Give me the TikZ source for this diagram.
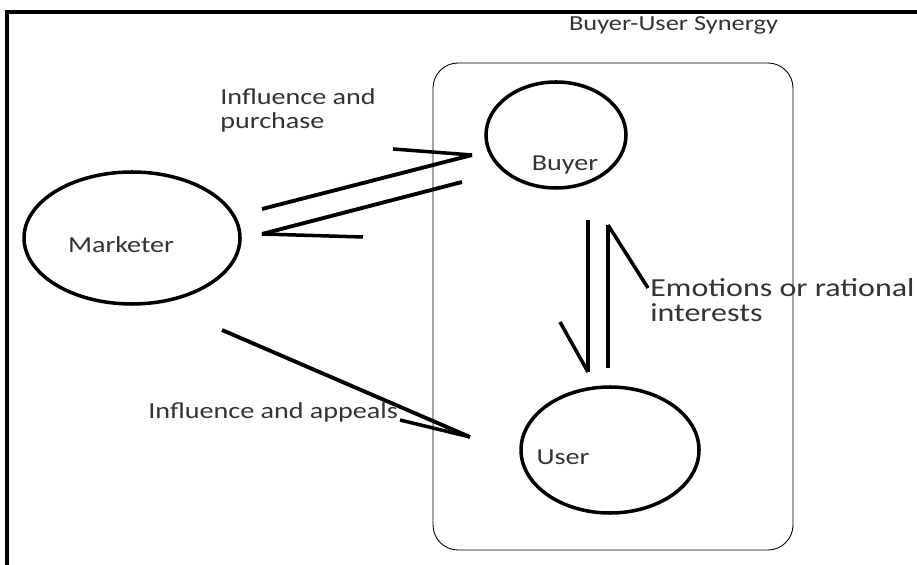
\documentclass[tikz,border=0pt]{standalone}
\usepackage{fontspec}
\setmainfont{Carlito}
\usepackage{graphicx}
\usepackage{tikz}
\usetikzlibrary{shapes.geometric}
\newcommand{\wide}[1]{\scalebox{1.23}[1]{#1}}
\tikzset{
    bubble/.style={
        ellipse,
        draw, line width=2pt,
        inner sep=0pt
    },
    lbl/.style={
        font={\fontsize{13pt}{13.6pt}\selectfont},
        text=black!80,
        inner sep=0pt
    },
    biglbl/.style={
        lbl,
        font={\fontsize{14.8pt}{14pt}\selectfont}
    },
    arrowline/.style={draw, line width=2.2pt},
    barb/.style={draw, line width=2pt},
    frameline/.style={draw, line width=2.3pt},
}

\begin{document}
\begin{tikzpicture}
        \useasboundingbox (0,0) rectangle (18.34,-11.3);

        % outer frame (top and left only)
        \draw [frameline] (0.14,-11.3) -- (0.14,-0.24) -- (18.34,-0.24);

        % synergy box
        \node [draw, line width=0.5pt, rounded corners=0.5cm, minimum width=7.2cm,
               minimum height=9.74cm] (synergy) at (12.26,-6.13) {};
        \node [lbl, font={\fontsize{12.2pt}{13pt}\selectfont}] (synergytxt) at (13.47,-0.5)
            {\wide{Buyer-User Synergy}};

        % actors
        \node [bubble, minimum width=4.32cm, minimum height=2.64cm] (marketer) at (2.64,-4.76) {};
        \node [bubble, minimum width=2.8cm, minimum height=2.12cm] (buyer) at (11.12,-2.7) {};
        \node [bubble, minimum width=3.56cm, minimum height=2.52cm] (user) at (12.2,-9.0) {};

        \node [lbl] (marketertxt) at (2.42,-4.9) {\wide{Marketer}};
        \node [lbl] (buyertxt) at (11.3,-3.3) {\wide{Buyer}};
        \node [lbl] (usertxt) at (11.26,-9.14) {\wide{User}};

        % edge labels
        \node [lbl, anchor=west, align=left] (purchasetxt) at (4.4,-2.2)
            {\wide{Influence and}\\\wide{purchase}};
        \node [biglbl, anchor=west, align=left] (emotiontxt) at (13.0,-6.0)
            {\wide{Emotions or rational}\\\wide{interests}};
        \node [lbl, anchor=west] (appealtxt) at (2.96,-8.24) {\wide{Influence and appeals}};

        % hand drawn arrows: shaft ends and single barbs
        \coordinate (mb0) at (5.24,-4.18);
        \coordinate (mb1) at (9.44,-3.1);
        \coordinate (mbb) at (7.86,-2.98);
        \coordinate (bm0) at (9.24,-3.64);
        \coordinate (bm1) at (5.24,-4.68);
        \coordinate (bmb) at (7.26,-4.74);
        \coordinate (bu0) at (11.76,-4.4);
        \coordinate (bu1) at (11.76,-7.44);
        \coordinate (bub) at (11.2,-6.44);
        \coordinate (ub0) at (12.16,-7.36);
        \coordinate (ub1) at (12.16,-4.5);
        \coordinate (ubb) at (12.96,-5.76);
        \coordinate (mu0) at (4.44,-6.6);
        \coordinate (mu1) at (9.4,-8.74);
        \coordinate (mub) at (8.0,-8.4);

        \draw [arrowline] (mb0) -- (mb1);
        \draw [barb] (mbb) -- (mb1);
        \draw [arrowline] (bm0) -- (bm1);
        \draw [barb] (bm1) -- (bmb);
        \draw [arrowline] (bu0) -- (bu1);
        \draw [barb] (bub) -- (bu1);
        \draw [arrowline] (ub0) -- (ub1);
        \draw [barb] (ub1) -- (ubb);
        \draw [arrowline] (mu0) -- (mu1);
        \draw [barb] (mub) -- (mu1);
      \end{tikzpicture}
\end{document}
